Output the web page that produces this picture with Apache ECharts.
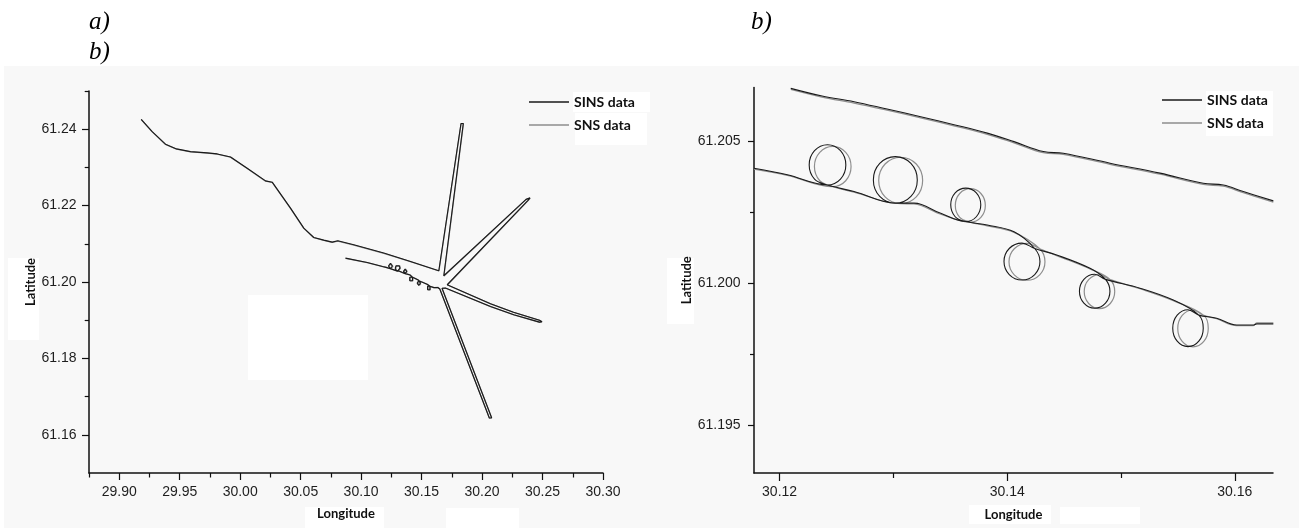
<!DOCTYPE html>
<html>
<head>
<meta charset="utf-8">
<script src="https://cdn.jsdelivr.net/npm/echarts@6.0.0/dist/echarts.min.js"></script>
<style>
html,body{margin:0;padding:0;background:#fff;}
#chart{width:1299px;height:528px;}
</style>
</head>
<body>
<div id="chart"></div>
<script>
// ---------- tick values ----------
const leftLonMajor = [29.90, 29.95, 30.00, 30.05, 30.10, 30.15, 30.20, 30.25, 30.30];
const leftLonMinor = [29.875, 29.925, 29.975, 30.025, 30.075, 30.125, 30.175, 30.225, 30.275];
const leftLatMajor = [61.16, 61.18, 61.20, 61.22, 61.24];
const leftLatMinor = [61.17, 61.19, 61.21, 61.23, 61.25];
const rightLonMajor = [30.12, 30.14, 30.16];
const rightLonMinor = [30.13, 30.15];
const rightLatMajor = [61.195, 61.200, 61.205];
const rightLatMinor = [61.1975, 61.2025];

// ---------- detail view (panel b): lower leg with circles ----------
const sinsLower = [
  [30.11775, 61.20406], [30.12068, 61.20383],
  [30.12421, 61.20347], [30.12535, 61.20368], [30.12582, 61.20418], [30.12535, 61.20468], [30.12421, 61.20489],
  [30.12307, 61.20468], [30.12260, 61.20418], [30.12307, 61.20368], [30.12421, 61.20347],
  [30.12654, 61.20324],
  [30.13017, 61.20283], [30.13154, 61.20307], [30.13210, 61.20365], [30.13154, 61.20423], [30.13017, 61.20447],
  [30.12880, 61.20423], [30.12824, 61.20365], [30.12880, 61.20307], [30.13017, 61.20283],
  [30.13181, 61.20283], [30.13416, 61.20247],
  [30.13636, 61.20218], [30.13729, 61.20235], [30.13768, 61.20277], [30.13729, 61.20319], [30.13636, 61.20336],
  [30.13543, 61.20319], [30.13504, 61.20277], [30.13543, 61.20235], [30.13636, 61.20218],
  [30.13825, 61.20206], [30.14060, 61.20182],
  [30.14242, 61.20123], [30.14288, 61.20077], [30.14242, 61.20031], [30.14130, 61.20012], [30.14018, 61.20031],
  [30.13972, 61.20077], [30.14018, 61.20123], [30.14130, 61.20142], [30.14242, 61.20123],
  [30.14435, 61.20100], [30.14728, 61.20053],
  [30.14864, 61.20014], [30.14903, 61.19972], [30.14864, 61.19930], [30.14769, 61.19912], [30.14674, 61.19930],
  [30.14635, 61.19972], [30.14674, 61.20014], [30.14769, 61.20032], [30.14864, 61.20014],
  [30.15167, 61.19983], [30.15460, 61.19941],
  [30.15684, 61.19888], [30.15723, 61.19842], [30.15684, 61.19796], [30.15589, 61.19777], [30.15494, 61.19796],
  [30.15455, 61.19842], [30.15494, 61.19888], [30.15589, 61.19907], [30.15684, 61.19888],
  [30.15841, 61.19877], [30.16017, 61.19853], [30.16163, 61.19853], [30.16193, 61.19857], [30.16339, 61.19857]
];
const snsLower = [
  [30.11775, 61.20403], [30.12068, 61.20381],
  [30.12467, 61.20341], [30.12581, 61.20362], [30.12628, 61.20412], [30.12581, 61.20462], [30.12467, 61.20483],
  [30.12353, 61.20462], [30.12306, 61.20412], [30.12353, 61.20362], [30.12467, 61.20341],
  [30.12654, 61.20322],
  [30.13064, 61.20281], [30.13201, 61.20305], [30.13257, 61.20363], [30.13201, 61.20421], [30.13064, 61.20445],
  [30.12927, 61.20421], [30.12871, 61.20363], [30.12927, 61.20305], [30.13064, 61.20281],
  [30.13181, 61.20280], [30.13416, 61.20244],
  [30.13676, 61.20216], [30.13769, 61.20233], [30.13808, 61.20275], [30.13769, 61.20317], [30.13676, 61.20334],
  [30.13583, 61.20317], [30.13544, 61.20275], [30.13583, 61.20233], [30.13676, 61.20216],
  [30.13825, 61.20203], [30.14060, 61.20180],
  [30.14286, 61.20122], [30.14332, 61.20076], [30.14286, 61.20030], [30.14174, 61.20011], [30.14062, 61.20030],
  [30.14016, 61.20076], [30.14062, 61.20122], [30.14174, 61.20141], [30.14286, 61.20122],
  [30.14435, 61.20098], [30.14728, 61.20051],
  [30.14906, 61.20013], [30.14945, 61.19971], [30.14906, 61.19929], [30.14811, 61.19911], [30.14716, 61.19929],
  [30.14677, 61.19971], [30.14716, 61.20013], [30.14811, 61.20031], [30.14906, 61.20013],
  [30.15167, 61.19981], [30.15460, 61.19939],
  [30.15728, 61.19887], [30.15767, 61.19841], [30.15728, 61.19795], [30.15633, 61.19776], [30.15538, 61.19795],
  [30.15499, 61.19841], [30.15538, 61.19887], [30.15633, 61.19906], [30.15728, 61.19887],
  [30.15841, 61.19875], [30.16017, 61.19851], [30.16163, 61.19851], [30.16193, 61.19861], [30.16339, 61.19861]
];
// ---------- detail view (panel b): upper leg ----------
const sinsUpper = [
  [30.12098, 61.20688], [30.12373, 61.20661], [30.12654, 61.20641], [30.12944, 61.20615],
  [30.13240, 61.20588], [30.13542, 61.20559], [30.13825, 61.20530], [30.14060, 61.20500],
  [30.14318, 61.20465], [30.14493, 61.20459], [30.14904, 61.20424], [30.15343, 61.20389],
  [30.15723, 61.20353], [30.15899, 61.20347], [30.16075, 61.20324], [30.16339, 61.20291]
];
const snsUpper = [
  [30.12098, 61.20684], [30.12373, 61.20657], [30.12654, 61.20636], [30.12944, 61.20611],
  [30.13240, 61.20584], [30.13542, 61.20555], [30.13825, 61.20526], [30.14060, 61.20496],
  [30.14318, 61.20461], [30.14493, 61.20455], [30.14904, 61.20420], [30.15343, 61.20385],
  [30.15723, 61.20349], [30.15899, 61.20343], [30.16075, 61.20320], [30.16339, 61.20287]
];

// ---------- overview (panel a) ----------
const sinsTail = [[30.08709, 61.20626], [30.10503, 61.20511]];
const snsTail = [[30.08709, 61.20620], [30.10503, 61.20505]];
const sinsSpikes = [
  [30.16506, 61.19816], [30.20600, 61.16440], [30.20698, 61.16400], [30.20790, 61.16445], [30.16688, 61.19837],
  [30.16977, 61.19842], [30.20698, 61.19361], [30.22625, 61.19144], [30.24750, 61.18950], [30.24900, 61.18900],
  [30.24950, 61.18960], [30.24750, 61.19000], [30.22600, 61.19209], [30.20698, 61.19431], [30.17118, 61.19928],
  [30.23799, 61.22137], [30.23964, 61.22203], [30.23799, 61.22221], [30.23633, 61.22163], [30.16836, 61.20163],
  [30.18449, 61.24150], [30.18358, 61.24190], [30.18259, 61.24150], [30.16423, 61.20294]
];
const snsSpikes = [
  [30.16520, 61.19810], [30.20615, 61.16435], [30.20710, 61.16395], [30.20800, 61.16440], [30.16700, 61.19832],
  [30.16990, 61.19836], [30.20710, 61.19355], [30.22635, 61.19138], [30.24760, 61.18945], [30.24910, 61.18895],
  [30.24960, 61.18955], [30.24760, 61.18995], [30.22610, 61.19203], [30.20710, 61.19425], [30.17130, 61.19922],
  [30.23810, 61.22131], [30.23975, 61.22197], [30.23810, 61.22215], [30.23645, 61.22157], [30.16848, 61.20157],
  [30.18460, 61.24144], [30.18370, 61.24184], [30.18270, 61.24144], [30.16435, 61.20288]
];
const sinsMain = [
  [30.14083, 61.20537], [30.11875, 61.20757], [30.09395, 61.20974], [30.08072, 61.21078], [30.07609, 61.21044],
  [30.06914, 61.21097], [30.06088, 61.21165], [30.05261, 61.21410], [30.04161, 61.21933], [30.02648, 61.22613],
  [30.02094, 61.22647], [30.00581, 61.22979], [29.99200, 61.23274], [29.98100, 61.23353], [29.97273, 61.23379],
  [29.95893, 61.23413], [29.94735, 61.23484], [29.93825, 61.23607], [29.92726, 61.23936], [29.91816, 61.24260]
];
const snsMain = [
  [30.14083, 61.20531], [30.11875, 61.20751], [30.09395, 61.20968], [30.08072, 61.21072], [30.07609, 61.21038],
  [30.06914, 61.21091], [30.06088, 61.21159], [30.05261, 61.21404], [30.04161, 61.21927], [30.02648, 61.22607],
  [30.02094, 61.22641], [30.00581, 61.22973], [29.99200, 61.23268], [29.98100, 61.23347], [29.97273, 61.23373],
  [29.95893, 61.23407], [29.94735, 61.23478], [29.93825, 61.23601], [29.92726, 61.23930], [29.91816, 61.24254]
];

const sinsOverview = sinsTail.concat(sinsLower, sinsSpikes, sinsMain);
const snsOverview = snsTail.concat(snsLower, snsSpikes, snsMain);

// ---------- styling helpers ----------
const LABEL_FONT = {fontFamily: 'Liberation Sans, Arial, sans-serif', fontSize: 14, color: '#1e1e1e'};
const NAME_FONT = {fontFamily: 'Lato, sans-serif', fontWeight: 'bold', fontSize: 13, color: '#111'};
const LEGEND_FONT = {fontFamily: 'Lato, sans-serif', fontWeight: 'bold', fontSize: 14, color: '#111', lineHeight: 14};
const AXIS_LINE = {show: true, onZero: false, lineStyle: {color: '#111', width: 1.5}};

function xMajor(gi, min, max, ticks, dec, nameGap, tickLen) {
  return {
    type: 'value', gridIndex: gi, position: 'bottom', min: min, max: max,
    name: 'Longitude', nameLocation: 'middle', nameGap: nameGap, nameTextStyle: NAME_FONT,
    axisLine: AXIS_LINE, splitLine: {show: false},
    axisTick: {show: true, inside: false, length: tickLen, customValues: ticks, lineStyle: {color: '#111', width: 1.2}},
    axisLabel: {show: true, margin: 12, customValues: ticks, formatter: v => Number(v).toFixed(dec), ...LABEL_FONT}
  };
}
function xMinor(gi, min, max, ticks, tickLen) {
  return {
    type: 'value', gridIndex: gi, position: 'bottom', offset: 0, min: min, max: max,
    axisLine: {show: false, onZero: false}, splitLine: {show: false},
    axisTick: {show: true, length: tickLen, customValues: ticks, lineStyle: {color: '#111', width: 1.2}},
    axisLabel: {show: false}
  };
}
function yMajor(gi, min, max, ticks, dec, nameGap, tickLen, margin) {
  return {
    type: 'value', gridIndex: gi, position: 'left', min: min, max: max,
    name: 'Latitude', nameLocation: 'middle', nameGap: nameGap, nameTextStyle: NAME_FONT,
    axisLine: AXIS_LINE, splitLine: {show: false},
    axisTick: {show: true, length: tickLen, customValues: ticks, lineStyle: {color: '#111', width: 1.2}},
    axisLabel: {show: true, margin: margin, customValues: ticks, formatter: v => Number(v).toFixed(dec), ...LABEL_FONT}
  };
}
function yMinor(gi, min, max, ticks, tickLen) {
  return {
    type: 'value', gridIndex: gi, position: 'left', offset: 0, min: min, max: max,
    axisLine: {show: false, onZero: false}, splitLine: {show: false},
    axisTick: {show: true, length: tickLen, customValues: ticks, lineStyle: {color: '#111', width: 1.2}},
    axisLabel: {show: false}
  };
}
function track(name, xi, yi, data, color, width, smooth, z) {
  return {
    name: name, type: 'line', xAxisIndex: xi, yAxisIndex: yi, data: data,
    symbol: 'none', showSymbol: false, smooth: smooth, clip: true, z: z,
    lineStyle: {color: color, width: width}, itemStyle: {color: color},
    emphasis: {disabled: true}
  };
}

const SINS_C = '#1a1a1a', SNS_C = '#8e8e8e';
const legendBase = {
  orient: 'vertical', icon: 'rect', itemWidth: 40, itemHeight: 1.3, itemGap: 9, selectedMode: false,
  padding: 0, textStyle: LEGEND_FONT, data: ['SINS data', 'SNS data']
};

const option = {
  animation: false,
  backgroundColor: '#ffffff',
  grid: [
    {left: 89, top: 91, width: 514, height: 382},
    {left: 754, top: 87.5, width: 519, height: 385.5}
  ],
  xAxis: [
    xMajor(0, 29.875, 30.30, leftLonMajor, 2, 34, 7),
    xMinor(0, 29.875, 30.30, leftLonMinor, 4.5),
    xMajor(1, 30.11775, 30.16336, rightLonMajor, 2, 35, 8),
    xMinor(1, 30.11775, 30.16336, rightLonMinor, 5)
  ],
  yAxis: [
    yMajor(0, 61.15, 61.25, leftLatMajor, 2, 51, 7, 12.5),
    yMinor(0, 61.15, 61.25, leftLatMinor, 4.3),
    yMajor(1, 61.19331, 61.20691, rightLatMajor, 3, 61, 6, 13.5),
    yMinor(1, 61.19331, 61.20691, rightLatMinor, 4)
  ],
  legend: [
    Object.assign({left: 529, top: 95}, legendBase),
    Object.assign({left: 1162, top: 93}, legendBase)
  ],
  series: [
    track('SNS data', 0, 0, snsOverview, SNS_C, 1.3, false, 2),
    track('SINS data', 0, 0, sinsOverview, SINS_C, 1.1, false, 3),
    track('SNS data', 2, 2, snsUpper, SNS_C, 1.3, 0.375, 2),
    track('SNS data', 2, 2, snsLower, SNS_C, 1.2, 0.375, 2),
    track('SINS data', 2, 2, sinsUpper, SINS_C, 1.1, 0.375, 3),
    track('SINS data', 2, 2, sinsLower, SINS_C, 1.1, 0.375, 3)
  ],
  graphic: [
    {type: 'rect', silent: true, z: -100, shape: {x: 4, y: 66, width: 1295, height: 462}, style: {fill: '#f8f8f8'}},
    {type: 'rect', silent: true, z: -99, shape: {x: 248, y: 295, width: 120, height: 85}, style: {fill: '#ffffff'}},
    {type: 'rect', silent: true, z: -99, shape: {x: 8, y: 258, width: 31, height: 82}, style: {fill: '#ffffff'}},
    {type: 'rect', silent: true, z: -99, shape: {x: 305, y: 507, width: 79, height: 21}, style: {fill: '#ffffff'}},
    {type: 'rect', silent: true, z: -99, shape: {x: 446, y: 508, width: 73, height: 20}, style: {fill: '#ffffff'}},
    {type: 'rect', silent: true, z: -99, shape: {x: 573, y: 92, width: 77, height: 20}, style: {fill: '#ffffff'}},
    {type: 'rect', silent: true, z: -99, shape: {x: 575, y: 113, width: 72, height: 32}, style: {fill: '#ffffff'}},
    {type: 'rect', silent: true, z: -99, shape: {x: 1206, y: 91, width: 67, height: 45}, style: {fill: '#ffffff'}},
    {type: 'rect', silent: true, z: -99, shape: {x: 667, y: 258, width: 27, height: 66}, style: {fill: '#ffffff'}},
    {type: 'rect', silent: true, z: -99, shape: {x: 969, y: 505, width: 82, height: 19}, style: {fill: '#ffffff'}},
    {type: 'rect', silent: true, z: -99, shape: {x: 1060, y: 507, width: 80, height: 17}, style: {fill: '#ffffff'}},
    {type: 'text', x: 89, y: 22, style: {text: 'a)', fontFamily: 'Liberation Serif', fontStyle: 'italic', fontSize: 25, fill: '#000', verticalAlign: 'middle', align: 'left'}},
    {type: 'text', x: 89, y: 52, style: {text: 'b)', fontFamily: 'Liberation Serif', fontStyle: 'italic', fontSize: 25, fill: '#000', verticalAlign: 'middle', align: 'left'}},
    {type: 'text', x: 751, y: 22, style: {text: 'b)', fontFamily: 'Liberation Serif', fontStyle: 'italic', fontSize: 25, fill: '#000', verticalAlign: 'middle', align: 'left'}}
  ]
};

const chart = echarts.init(document.getElementById('chart'), null, {renderer: 'canvas'});
chart.setOption(option);
</script>
</body>
</html>
